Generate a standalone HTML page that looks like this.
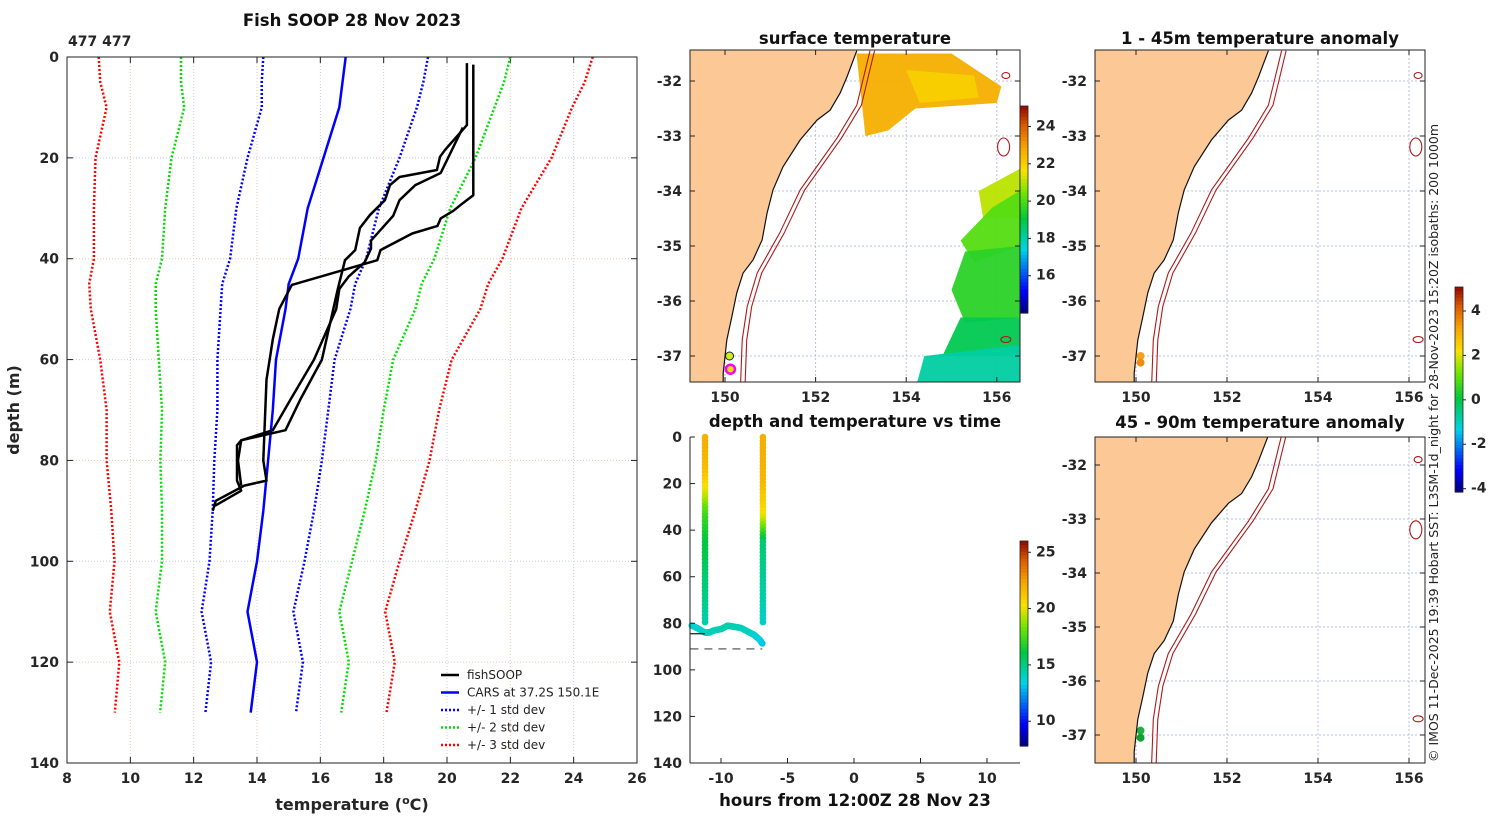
<!DOCTYPE html>
<html><head><meta charset="utf-8">
<style>
html,body{margin:0;padding:0;background:#fff;}
svg{display:block;font-family:"DejaVu Sans","Liberation Sans",sans-serif;}
.tk{font-size:14px;font-weight:bold;fill:#262626;}
.ttl{font-size:16.5px;font-weight:bold;fill:#111;}
</style></head>
<body>
<svg id="fig" width="1500" height="820" viewBox="0 0 1500 820" xmlns="http://www.w3.org/2000/svg"></svg>
<script>
// ---------- data ----------
const carsDepth=[0,5,10,20,30,40,45,50,60,70,80,90,100,110,120,130];
const carsTemp=[16.8,16.7,16.6,16.1,15.6,15.3,15.0,14.9,14.6,14.5,14.35,14.2,14.0,13.7,14.0,13.8];
const carsStd=[2.6,2.55,2.45,2.4,2.25,2.15,2.1,2.05,1.85,1.75,1.7,1.6,1.5,1.45,1.45,1.43];
const profA_d=[1.2,13.5,18.4,19.8,22.4,23.8,25.4,28.4,31.3,33.9,38.3,40.3,46,60,68,74,76,77,84,86,89];
const profA_t=[20.63,20.63,19.94,19.78,19.68,18.5,18.2,18.04,17.57,17.25,17.1,16.78,16.55,16.05,15.36,14.9,13.5,13.37,13.37,13.5,12.67];
const profB_d=[14,23,25.4,28.4,31.5,36.4,38,40.7,43.5,46,50,60,68,74,76,80,85];
const profB_t=[20.5,19.8,19.0,18.5,18.3,17.6,17.6,17.4,16.9,16.6,16.5,15.8,15.05,14.5,13.5,13.4,13.5];
const profC_d=[1.5,27.4,29,30.5,32,33.5,35,38.3,40.3,45.2,50,56,64,80,84,85,88,90];
const profC_t=[20.83,20.83,20.5,20.2,19.8,19.7,18.9,17.9,17.8,15.1,14.7,14.5,14.3,14.2,14.3,13.6,12.7,12.6];
// depth-time data
const castHours=[-11.2,-6.85];
const castDepth=[0,5,10,15,20,25,30,35,40,45,50,55,60,65,70,75,80];
const castTempL=[21.8,21.8,21.6,21.3,20.5,19.5,18.0,17.0,16.5,16.0,15.8,15.5,15.2,15.0,14.8,14.5,14.2];
const castTempR=[21.9,21.9,21.8,21.7,21.5,21.0,20.6,19.6,17.5,15.2,15.0,14.8,14.6,14.4,14.2,14.0,13.8];
const trackHours=[-12.2,-11.8,-11.2,-10.9,-10.5,-10.0,-9.5,-9.0,-8.5,-8.0,-7.5,-7.1,-6.85];
const trackDepth=[81,82,84,84,83,82.5,81,81.5,82,83.5,85,87,89];
const trackTemp=[13.6,13.6,13.7,13.9,14.0,14.1,14.2,14.1,14.0,13.9,13.7,13.4,13.0];
// map data
const coastLon=[152.91,152.69,152.54,152.32,152.03,151.66,151.28,151.06,150.93,150.82,150.62,150.40,150.26,150.15,150.04,149.96,149.96];
const coastLat=[-31.45,-31.93,-32.22,-32.53,-32.71,-33.07,-33.56,-33.98,-34.40,-34.89,-35.25,-35.49,-35.85,-36.29,-36.71,-37.31,-37.6];
const isoLon=[153.2,152.91,152.47,151.66,151.21,150.71,150.49,150.38,150.34];
const isoLat=[-31.45,-32.44,-33.04,-33.98,-34.76,-35.49,-36.10,-36.71,-37.6];
const xTicksL=[8,10,12,14,16,18,20,22,24,26];
const yTicksL=[0,20,40,60,80,100,120,140];

const NS="http://www.w3.org/2000/svg";
const svg=document.getElementById('fig');
function el(tag,attrs,parent){const e=document.createElementNS(NS,tag);for(const k in attrs)e.setAttribute(k,attrs[k]);(parent||svg).appendChild(e);return e;}
function txt(s,x,y,cls,anchor,parent){const t=el('text',{x:x,y:y,'class':cls||'tk','text-anchor':anchor||'middle'},parent);t.textContent=s;return t;}
const stops=[[0,[0,0,130]],[0.1,[0,0,255]],[0.3,[0,210,230]],[0.45,[0,200,60]],[0.58,[120,230,0]],[0.68,[250,225,0]],[0.8,[245,160,0]],[0.9,[220,90,0]],[1,[140,0,0]]];
function cmap(v){v=Math.max(0,Math.min(1,v));for(let i=1;i<stops.length;i++){if(v<=stops[i][0]){const a=stops[i-1],b=stops[i];const f=(v-a[0])/(b[0]-a[0]);const c=a[1].map((q,j)=>Math.round(q+(b[1][j]-q)*f));return `rgb(${c[0]},${c[1]},${c[2]})`;}}return 'rgb(140,0,0)';}

// ---------- left profile chart ----------
const L={x0:67,x1:637,y0:57,y1:763};
const lx=t=>L.x0+(t-8)/(26-8)*(L.x1-L.x0);
const ly=d=>L.y0+d/140*(L.y1-L.y0);
const gL=el('g',{});


xTicksL.forEach(t=>{const X=lx(t);
 if(t>8&&t<26){const g=el('line',{x1:X,x2:X,y1:L.y0,y2:L.y1,stroke:(t/2)%2?'#e6c8b4':'#c4cce8','stroke-width':1,'stroke-dasharray':'1,2'},gL);}
 el('line',{x1:X,x2:X,y1:L.y1,y2:L.y1-6,stroke:'#222'},gL);el('line',{x1:X,x2:X,y1:L.y0,y2:L.y0+6,stroke:'#222'},gL);
 const lb=txt(String(t),X,L.y1+20,'tk','middle',gL);});
yTicksL.forEach(d=>{const Y=ly(d);
 if(d>0&&d<140){const g=el('line',{x1:L.x0,x2:L.x1,y1:Y,y2:Y,stroke:(d/20)%2?'#c4cce8':'#e6c8b4','stroke-width':1,'stroke-dasharray':'1,2'},gL);}
 el('line',{x1:L.x0,x2:L.x0+6,y1:Y,y2:Y,stroke:'#222'},gL);el('line',{x1:L.x1,x2:L.x1-6,y1:Y,y2:Y,stroke:'#222'},gL);
 const lb=txt(String(d),L.x0-8,Y+5,'tk','end',gL);});
function polyPts(ts,ds){return ts.map((t,i)=>lx(t).toFixed(1)+','+ly(ds[i]).toFixed(1)).join(' ');}
[[3,'#ff0000'],[2,'#00dd00'],[1,'#0000ff']].forEach(([k,c])=>{[-1,1].forEach(s=>{
 const p=el('polyline',{points:polyPts(carsTemp.map((t,i)=>t+s*k*carsStd[i]),carsDepth),fill:'none',stroke:c,'stroke-width':2.5,'stroke-dasharray':'2,2'},gL);
 });});
const cl=el('polyline',{points:polyPts(carsTemp,carsDepth),fill:'none',stroke:'#0000ff','stroke-width':2.5},gL);

[[profA_t,profA_d],[profB_t,profB_d],[profC_t,profC_d]].forEach(([t,d])=>{const p=el('polyline',{points:polyPts(t,d),fill:'none',stroke:'#000','stroke-width':2.5,'stroke-linejoin':'round'},gL);
 });
el('rect',{x:L.x0,y:L.y0,width:L.x1-L.x0,height:L.y1-L.y0,fill:'none',stroke:'#222','stroke-width':1},gL);
const t1=txt('Fish SOOP 28 Nov 2023',352,26,'ttl');t1.setAttribute('font-size','17.5');
const t2=txt('477 477',68,46,'','start');t2.setAttribute('font-size','10');
const yl=el('text',{x:0,y:0,transform:'translate(19,410) rotate(-90)','text-anchor':'middle','font-size':'16','font-weight':'bold',fill:'#262626'});yl.textContent='depth (m)';

const xl=el('text',{x:352,y:810,'text-anchor':'middle','font-size':'16','font-weight':'bold',fill:'#262626'});
xl.innerHTML='temperature (<tspan dy="-6" font-size="11">o</tspan><tspan dy="6">C)</tspan>';

const leg=[['fishSOOP','#000',null],['CARS at 37.2S 150.1E','#0000ff',null],['+/- 1 std dev','#0000ff','2,2'],['+/- 2 std dev','#00dd00','2,2'],['+/- 3 std dev','#ff0000','2,2']];
leg.forEach((e,i)=>{const Y=675+i*17.5;const g=el('g',{});
 const a={x1:441,x2:459,y1:Y,y2:Y,stroke:e[1],'stroke-width':2.5};if(e[2])a['stroke-dasharray']=e[2];el('line',a,g);
 const t=el('text',{x:467,y:Y+4,'text-anchor':'start','font-size':'12',fill:'#222'},g);t.textContent=e[0];});

// ---------- maps ----------
function makeMap(name,bx0,by0,bx1,by1,lonA,pxLon,lat32y,pxLat){
 const g=el('g',{});
 const mx=lo=>lonA+(lo-150)*pxLon, my=la=>lat32y+(-32-la)*pxLat;
 el('clipPath',{id:'c_'+name},g).appendChild(el('rect',{x:bx0,y:by0,width:bx1-bx0,height:by1-by0},g));
 const inner=el('g',{'clip-path':'url(#c_'+name+')'},g);
 return {g,inner,mx,my};
}
function drawBase(m,bx0,by0,bx1,by1,lonTicks,latTicks,sst){
 const {g,inner,mx,my}=m;
 lonTicks.forEach(lo=>el('line',{x1:mx(lo),x2:mx(lo),y1:by0,y2:by1,stroke:'#b8c0e0','stroke-dasharray':'2,2'},inner));
 latTicks.forEach(la=>el('line',{x1:bx0,x2:bx1,y1:my(la),y2:my(la),stroke:'#b8c0e0','stroke-dasharray':'2,2'},inner));
 if(sst) sst(inner,mx,my);
 let pts=coastLon.map((lo,i)=>mx(lo).toFixed(1)+','+my(coastLat[i]).toFixed(1));
 pts.push(bx0-5+','+(by1+10));pts.push(bx0-5+','+(by0-10));
 const land=el('polygon',{points:pts.join(' '),fill:'#fbc896',stroke:'none'},inner);
 
 el('polyline',{points:coastLon.map((lo,i)=>mx(lo).toFixed(1)+','+my(coastLat[i]).toFixed(1)).join(' '),fill:'none',stroke:'#111','stroke-width':1.2},inner);
 [0,0.1].forEach(off=>{const p=el('polyline',{points:isoLon.map((lo,i)=>mx(lo+off).toFixed(1)+','+my(isoLat[i]).toFixed(1)).join(' '),fill:'none',stroke:'#b01818','stroke-width':1.1},inner);
  });
 [[156.2,-31.9,4,3],[156.15,-33.2,6,9],[156.2,-36.7,5,3]].forEach(s=>el('ellipse',{cx:mx(s[0]),cy:my(s[1]),rx:s[2],ry:s[3],fill:'none',stroke:'#b01818','stroke-width':1.1},inner));
 el('rect',{x:bx0,y:by0,width:bx1-bx0,height:by1-by0,fill:'none',stroke:'#222'},g);
 lonTicks.forEach(lo=>{el('line',{x1:mx(lo),x2:mx(lo),y1:by1,y2:by1-5,stroke:'#222'},g);el('line',{x1:mx(lo),x2:mx(lo),y1:by0,y2:by0+5,stroke:'#222'},g);
  const t=txt(String(lo),mx(lo),by1+20,'tk','middle',g);});
 latTicks.forEach(la=>{el('line',{x1:bx0,x2:bx0+5,y1:my(la),y2:my(la),stroke:'#222'},g);el('line',{x1:bx1,x2:bx1-5,y1:my(la),y2:my(la),stroke:'#222'},g);
  const t=txt(String(la),bx0-8,my(la)+5,'tk','end',g);});
}
const lonT=[150,152,154,156], latT=[-32,-33,-34,-35,-36,-37];
const sstPatchTemps=[22.6,21.9,21.0,20.0,19.5,18.8,18.0];
const sstPatchLon=[[152.9,153.3,155.0,156.1,156.0,154.2,153.6,153.1],[154.0,155.5,155.6,154.3],[155.6,156.5,156.5,155.7],[155.9,156.5,156.5,155.5,155.2],[155.3,156.5,156.5,155.3,155.0],[155.2,156.5,156.5,154.8],[154.4,156.5,156.5,154.2]];
const sstPatchLat=[[-31.5,-31.5,-31.5,-32.1,-32.4,-32.5,-32.9,-33.0],[-31.8,-31.9,-32.3,-32.4],[-34.0,-33.6,-34.5,-34.5],[-34.3,-34.0,-35.0,-35.3,-34.9],[-35.1,-35.0,-36.3,-36.4,-35.8],[-36.3,-36.3,-37.0,-37.0],[-37.0,-36.8,-37.6,-37.6]];
const sstMin=14.0,sstMax=25.1;
const M1=makeMap('surface-temperature-map',690,50,1020,382,725,45.3,81,55);
drawBase(M1,690,50,1020,382,lonT,latT,(g,mx,my)=>{
 sstPatchTemps.forEach((T,i)=>{const p=el('polygon',{points:sstPatchLon[i].map((lo,j)=>mx(lo).toFixed(1)+','+my(sstPatchLat[i][j]).toFixed(1)).join(' '),fill:cmap((T-sstMin)/(sstMax-sstMin)),opacity:0.95},g);
  });
 el('circle',{cx:mx(150.1),cy:my(-37.0),r:4,fill:'#c8f020',stroke:'#222','stroke-width':1},g);
 el('circle',{cx:mx(150.12),cy:my(-37.24),r:4.5,fill:'#e8e000',stroke:'#ff00ff','stroke-width':2.5},g);
});
txt('surface temperature',855,44,'ttl');
const M2=makeMap('anomaly-map-1-45m',1095,50,1425,382,1136,45.5,81,55);
drawBase(M2,1095,50,1425,382,lonT,latT,(g,mx,my)=>{
 el('circle',{cx:mx(150.1),cy:my(-37.0),r:4,fill:'#f5a020'},g);el('circle',{cx:mx(150.1),cy:my(-37.12),r:4,fill:'#f08a10'},g);});
txt('1 - 45m temperature anomaly',1260,44,'ttl');
const M3=makeMap('anomaly-map-45-90m',1095,437,1425,763,1136,45.5,465,54);
drawBase(M3,1095,437,1425,763,lonT,latT,(g,mx,my)=>{
 el('circle',{cx:mx(150.1),cy:my(-36.92),r:4,fill:'#20b040'},g);el('circle',{cx:mx(150.1),cy:my(-37.05),r:4,fill:'#10a030'},g);});
txt('45 - 90m temperature anomaly',1260,428,'ttl');

// ---------- depth vs time ----------
const T={x0:690,x1:1020,y0:437,y1:763};
const tx=h=>854+h*13.3, ty=d=>T.y0+d/140*(T.y1-T.y0);
const gT=el('g',{});
const tMin=7.8,tMax=26;
castHours.forEach((h,ci)=>{const temps=ci?castTempR:castTempL;
 for(let d=0;d<=80;d+=1.5){const k=Math.min(castDepth.length-2,Math.floor(d/5));const f=(d-castDepth[k])/5;const T_=temps[k]+(temps[k+1]-temps[k])*f;
  const c=el('circle',{cx:tx(h),cy:ty(d),r:3.3,fill:cmap((T_-tMin)/(tMax-tMin))},gT);}});
for(let i=0;i<trackHours.length-1;i++){for(let s=0;s<6;s++){const f=s/6;const h=trackHours[i]+(trackHours[i+1]-trackHours[i])*f;const d=trackDepth[i]+(trackDepth[i+1]-trackDepth[i])*f;const tt=trackTemp[i]+(trackTemp[i+1]-trackTemp[i])*f;
 const c=el('circle',{cx:tx(h),cy:ty(d),r:3.3,fill:cmap((tt-tMin)/(tMax-tMin))},gT);}}
el('line',{x1:T.x0,x2:tx(-11.2),y1:ty(84.5),y2:ty(84.5),stroke:'#111','stroke-width':1.2},gT);
const dl=el('line',{x1:tx(-12.3),x2:tx(-6.9),y1:ty(91),y2:ty(91),stroke:'#777','stroke-width':1.5,'stroke-dasharray':'8,6'},gT);
[-10,-5,0,5,10].forEach(h=>{el('line',{x1:tx(h),x2:tx(h),y1:T.y1,y2:T.y1-5,stroke:'#222'},gT);const t=txt(String(h),tx(h),T.y1+20,'tk','middle',gT);});
[0,20,40,60,80,100,120,140].forEach(d=>{el('line',{x1:T.x0,x2:T.x0+5,y1:ty(d),y2:ty(d),stroke:'#222'},gT);const t=txt(String(d),T.x0-8,ty(d)+5,'tk','end',gT);});
el('line',{x1:T.x0,x2:T.x0,y1:T.y0,y2:T.y1,stroke:'#222'},gT);el('line',{x1:T.x0,x2:T.x1,y1:T.y1,y2:T.y1,stroke:'#222'},gT);
txt('depth and temperature vs time',855,427,'ttl');
const hl=txt('hours from 12:00Z 28 Nov 23',855,806,'ttl');

// ---------- colorbars ----------
function cbar(name,x,y0,y1,vmin,vmax,ticks){const g=el('g',{});
 const n=60;for(let i=0;i<n;i++){const v=i/n;el('rect',{x:x,y:y1-(i+1)/n*(y1-y0),width:8,height:(y1-y0)/n+0.6,fill:cmap(v)},g);}
 el('rect',{x:x,y:y0,width:8,height:y1-y0,fill:'none',stroke:'#222','stroke-width':0.8},g);
 ticks.forEach(t=>{const Y=y1-(t-vmin)/(vmax-vmin)*(y1-y0);el('line',{x1:x+8,x2:x+11,y1:Y,y2:Y,stroke:'#222'},g);const l=txt(String(t),x+16,Y+4,'tk','start',g);l.setAttribute('font-size','12');});}
cbar('sst-colorbar',1020,106,313,sstMin,sstMax,[16,18,20,22,24]);
cbar('depth-time-colorbar',1020,541,746,tMin,tMax,[10,15,20,25]);
cbar('anomaly-colorbar',1455,287,492,-4.15,5.08,[-4,-2,0,2,4]);
const cr=el('text',{x:0,y:0,transform:'translate(1438,762) rotate(-90)','text-anchor':'start','font-size':'12.5',fill:'#222'});
cr.textContent='© IMOS 11-Dec-2025 19:39 Hobart SST: L3SM-1d_night for 28-Nov-2023 15:20Z isobaths: 200  1000m';

</script>
</body></html>
